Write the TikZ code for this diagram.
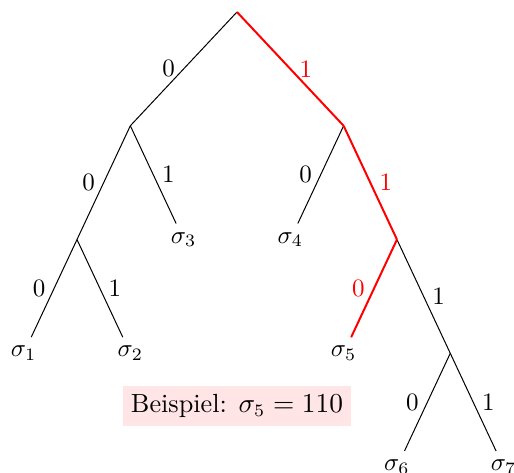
\documentclass[tikz,border=0pt]{standalone}
\usetikzlibrary{positioning}
\begin{document}
\begin{tikzpicture}[
  leaf/.style={inner sep=3.33pt},
  code/.style={draw=red, thick},
  lbl/.style={text=black},
  sel/.style={text=red},
  box/.style={fill=red!10, align=center, font=\fontsize{10.5}{12.6}\selectfont},
]
\useasboundingbox (-3.333,0.169) rectangle (3.896,-6.47);
% inner nodes of the code tree
\coordinate (root) at (0,0);
\coordinate (n0) at (-1.5,-1.6);
\coordinate (n1) at (1.5,-1.6);
\coordinate (n00) at (-2.25,-3.2);
\coordinate (n11) at (2.25,-3.2);
\coordinate (n111) at (3,-4.8);
% leaves
\node[leaf] (s1) at (-3,-4.8) {$\sigma_1$};
\node[leaf] (s2) at (-1.5,-4.8) {$\sigma_2$};
\node[leaf] (s3) at (-0.75,-3.2) {$\sigma_3$};
\node[leaf] (s4) at (0.75,-3.2) {$\sigma_4$};
\node[leaf] (s5) at (1.5,-4.8) {$\sigma_5$};
\node[leaf] (s6) at (2.25,-6.4) {$\sigma_6$};
\node[leaf] (s7) at (3.75,-6.4) {$\sigma_7$};

% edges
\draw (root) -- node[lbl, left]{0} (n0);
\draw (n0) -- node[lbl, left]{0} (n00);
\draw (n0) -- node[lbl, right]{1} (s3);
\draw (n00) -- node[lbl, left]{0} (s1);
\draw (n00) -- node[lbl, right]{1} (s2);
\draw (n1) -- node[lbl, left]{0} (s4);
\draw (n11) -- node[lbl, right]{1} (n111);
\draw (n111) -- node[lbl, left]{0} (s6);
\draw (n111) -- node[lbl, right]{1} (s7);
% path of sigma_5
\draw[code] (root) -- node[sel, right]{1} (n1);
\draw[code] (n1) -- node[sel, right]{1} (n11);
\draw[code] (n11) -- node[sel, left]{0} (s5);

\node[box] (ex) at (0,-5.54) {Beispiel: $\sigma_5 = 110$};
\end{tikzpicture}
\end{document}
